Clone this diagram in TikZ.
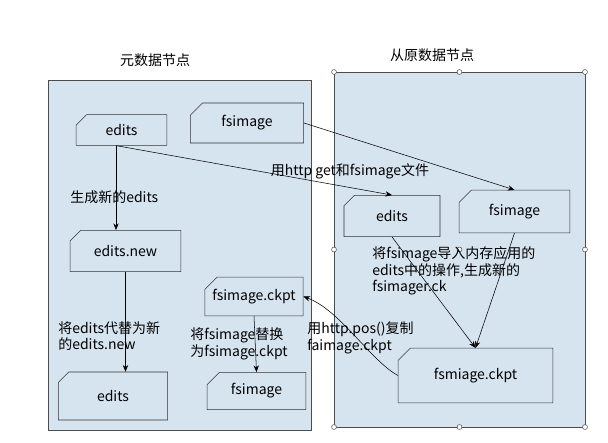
\documentclass[tikz,border=0pt]{standalone}
\usepackage{fontspec}
\setmainfont{Noto Sans CJK SC}
\usetikzlibrary{shapes.misc,arrows.meta}
\definecolor{boxfill}{RGB}{214,228,240}
\tikzset{
  group/.style={draw=black!70, fill=boxfill},
  card/.style={chamfered rectangle, chamfered rectangle corners=north west,
    chamfered rectangle xsep=6pt, draw=black!80, fill=boxfill,
    inner sep=0pt, font=\fontsize{10.5}{12.5}\selectfont},
  flow/.style={-{Stealth[length=5pt,width=4pt]}, black},
  note/.style={font=\fontsize{10.5}{12.5}\selectfont, align=left, inner sep=0pt},
  handle/.style={circle, draw=black!70, fill=white, inner sep=1.3pt}
}
\begin{document}
\begin{tikzpicture}[x=0.75pt,y=-0.75pt]
  \useasboundingbox (0,0) rectangle (608,443);

  % the two nodes of the cluster
  \draw[group] (48,80) rectangle (311,430);
  \draw[group] (334,72) rectangle (585,427);
  \node[note] (mainlbl) at (155,60) {元数据节点};
  \node[note] (backlbl) at (432,55) {从原数据节点};
  \foreach \px in {334,459.5,585}
    \foreach \py in {72,249.5,427}
      \node[handle] at (\px,\py) {};

  % files on the main node
  \node[card, minimum width=68pt, minimum height=23pt] (edits) at (121.5,130) {edits};
  \node[card, minimum width=85pt, minimum height=30pt] (fsimage) at (247,123) {fsimage};
  \node[card, minimum width=83pt, minimum height=31pt] (editsnew) at (125.5,251) {edits.new};
  \node[card, minimum width=70pt, minimum height=29pt] (ckpt) at (254,296.5) {fsimage.ckpt};
  \node[card, minimum width=82pt, minimum height=36pt] (editsb) at (113,396) {edits};
  \node[card, minimum width=74pt, minimum height=28pt] (fsimageb) at (256.5,391) {fsimage};

  % files on the backup node
  \node[card, minimum width=72pt, minimum height=31pt] (editsr) at (392,216) {edits};
  \node[card, minimum width=83pt, minimum height=32pt] (fsimager) at (514.5,211.5) {fsimage};
  \node[card, minimum width=116pt, minimum height=41pt] (ckptr) at (475.5,375.5) {fsmiage.ckpt};

  % transfers
  \draw[flow] (edits.south -| 116,0) -- (editsnew.north -| 116,0);
  \node[note, anchor=west] (l1) at (70,197) {生成新的edits};
  \draw[flow] (edits.south -| 116,0) -- (editsr.north);
  \node[note] (l2) at (350,171) {用http get和fsimage文件};
  \draw[flow] (fsimage.east) -- (fsimager.north);
  \draw[flow] (editsnew.south) -- (editsb.north -| editsnew.south);
  \node[note, anchor=west] (l3) at (58,336) {将edits代替为新\\的edits.new};
  \draw[flow] (ckpt.south) -- (fsimageb.north);
  \node[note, anchor=west] (l4) at (190,344) {将fsimage替换\\为fsimage.ckpt};
  \draw[flow] (editsr.south) -- (ckptr.north);
  \draw[flow] (fsimager.south) -- (ckptr.north);
  \node[note, anchor=west] (l5) at (372,271) {将fsimage导入内存应用的\\edits中的操作,生成新的\\fsimager.ck};
  \draw[flow] (ckptr.west) .. controls (370,360) and (340,310) .. (ckpt.east);
  \node[note, anchor=west] (l6) at (307,338) {用http.pos()复制\\faimage.ckpt};
\end{tikzpicture}
\end{document}
